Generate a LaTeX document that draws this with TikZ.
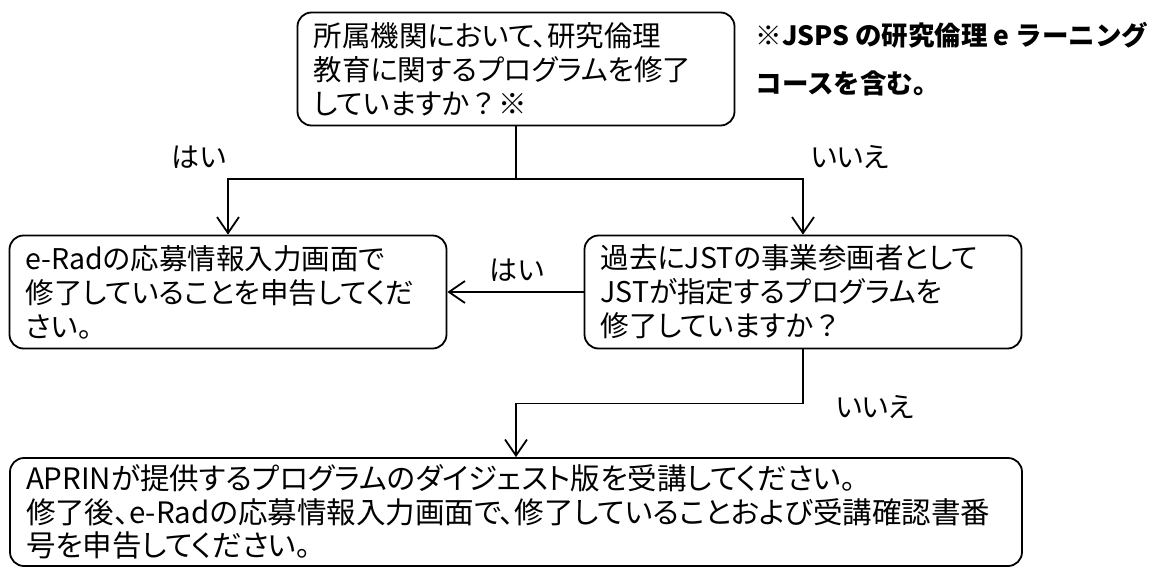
\documentclass[tikz,border=0pt]{standalone}
\usepackage{fontspec}
\newfontfamily\jpfont[RawFeature=+palt]{Noto Sans CJK JP}
\newfontfamily\jpnote{Noto Sans CJK JP}
\newcommand\fwq{{\jpnote ？}}
\usetikzlibrary{arrows.meta}
\begin{document}
\begin{tikzpicture}[x=1pt,y=-1pt,
    box/.style={draw,line width=1.8pt,rounded corners=14pt,minimum width=437pt,minimum height=113pt,
        text width=405pt,align=left,inner xsep=16pt,inner ysep=0pt,font=\jpfont\fontsize{28.5}{34}\selectfont},
    arr/.style={line width=1.8pt,-{Straight Barb[length=16pt,width=22pt,line width=1.8pt]}},
    lab/.style={font=\jpfont\fontsize{28}{34}\selectfont}]
    \useasboundingbox (0,0) rectangle (1160,568);
    \node[box] (q1) at (516,69) {所属機関において、研究倫理\\教育に関するプログラムを修了\\していますか\fwq ※};
    \node[box] (q2) at (803,292) {過去にJSTの事業参画者として\\JSTが指定するプログラムを\\修了していますか\fwq};
    \node[box] (a1) at (228,292) {e-Radの応募情報入力画面で\\修了していることを申告してくだ\\さい。};
    \node[box,minimum width=1012pt,minimum height=108pt,text width=980pt,font=\jpfont\fontsize{29.5}{33.5}\selectfont] (a2) at (516,512)
        {APRINが提供するプログラムのダイジェスト版を受講してください。\\修了後、e-Radの応募情報入力画面で、修了していることおよび受講確認書番\\号を申告してください。};
    \node[font=\jpnote\bfseries\fontsize{26.5}{48}\selectfont,align=left,anchor=north west] (note) at (752,19)
        {※JSPS の研究倫理 e ラーニング\\コースを含む。};
    \coordinate (split) at (516,179);
    \draw[line width=1.8pt] (q1.south) -- (split);
    \draw[arr] (split) -| (a1.north);
    \draw[arr] (split) -| (q2.north);
    \draw[arr] (q2.west) -- (a1.east);
    \draw[arr] (q2.south) -- ++(0,54) -| (a2.north);
    \node[lab] (yes1) at (199,157) {はい};
    \node[lab] (no1) at (850,157) {いいえ};
    \node[lab] (yes2) at (517,270) {はい};
    \node[lab] (no2) at (875,407) {いいえ};
\end{tikzpicture}
\end{document}
